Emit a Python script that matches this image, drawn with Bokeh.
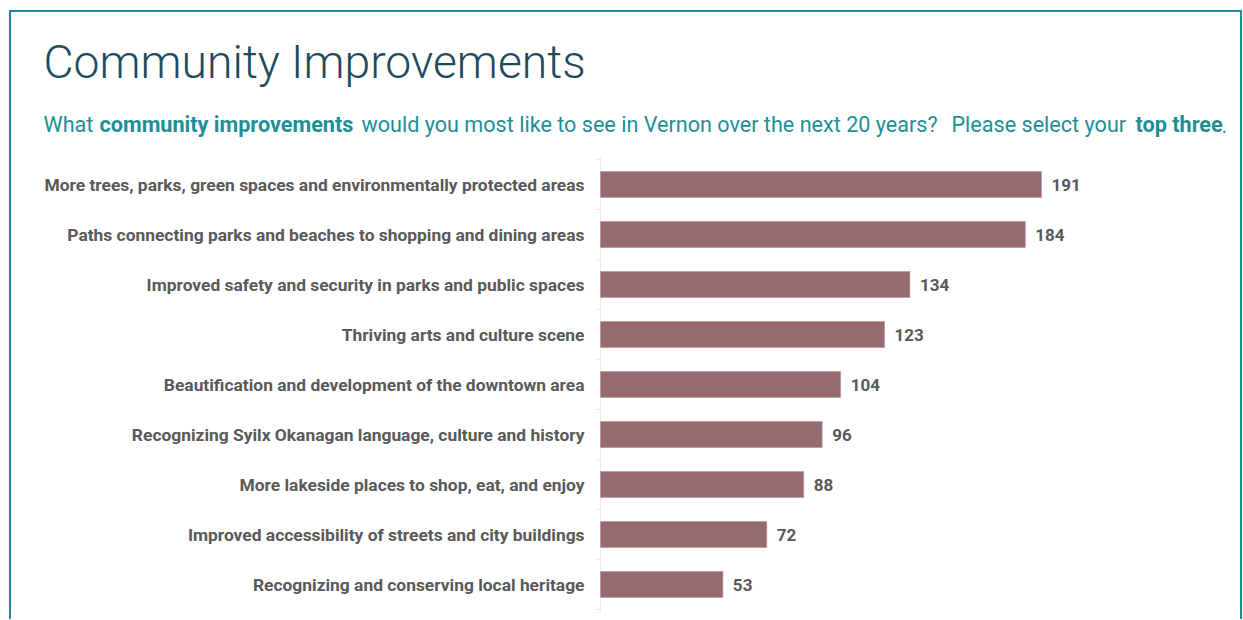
from bokeh.plotting import figure
from bokeh.models import Range1d, ColumnDataSource
from bokeh.core.properties import value
from bokeh.embed import file_html
from bokeh.resources import INLINE

# ---- data ----
categories = [
    "More trees, parks, green spaces and environmentally protected areas",
    "Paths connecting parks and beaches to shopping and dining areas",
    "Improved safety and security in parks and public spaces",
    "Thriving arts and culture scene",
    "Beautification and development of the downtown area",
    "Recognizing Syilx Okanagan language, culture and history",
    "More lakeside places to shop, eat, and enjoy",
    "Improved accessibility of streets and city buildings",
    "Recognizing and conserving local heritage",
]
counts = [191, 184, 134, 123, 104, 96, 88, 72, 53]
value_labels = [str(c) for c in counts]

title_text = "Community Improvements"
subtitle_parts = ["What", "community improvements",
                  "would you most like to see in Vernon over the next 20 years?",
                  "Please select your", "top three", "."]
subtitle_bold = [False, True, False, False, True, False]
subtitle_x = [43, 99, 361, 951, 1135, 1221]  # px where each part starts

# ---- layout ----
W, H = 1242, 619
X0 = 600              # px of value 0
S = (1041 - 600) / 191  # px per unit
Y0 = 184              # px of first category center
BAND = 50             # px per category

def dx(px):
    return (px - X0) / S

def dy(py):
    return (py - Y0) / BAND

p = figure(width=W, height=H, output_backend="svg", toolbar_location=None,
           x_range=Range1d(-X0 / S, (W - X0) / S),
           y_range=Range1d((H - Y0) / BAND, -Y0 / BAND),
           min_border=0, min_border_left=0, min_border_right=0,
           min_border_top=0, min_border_bottom=0)
p.axis.visible = False
p.grid.visible = False
p.outline_line_color = None
p.background_fill_color = "white"
p.border_fill_color = "white"

n = len(categories)
ys = list(range(n))
src = ColumnDataSource(dict(y=ys, v=counts, cat=categories, lab=value_labels))

# faint axis line and ticks
p.segment(x0=0, y0=-0.54, x1=0, y1=n - 0.42, line_color="#ececec", line_width=1)
p.segment(x0=[-5 / S] * (n + 1), y0=[i - 0.5 for i in range(n + 1)],
          x1=[0] * (n + 1), y1=[i - 0.5 for i in range(n + 1)],
          line_color="#ececec", line_width=1)

p.hbar(y="y", left=0, right="v", height=0.52, source=src,
       fill_color="#956b71", line_color="#b89096", line_width=0.6)

p.text(x=0, y="y", text="cat", source=src, x_offset=-16,
       text_align="right", text_baseline="middle",
       text_font=value("Roboto"), text_font_style="bold",
       text_font_size="17.4px", text_color="#595959")
p.text(x="v", y="y", text="lab", source=src, x_offset=10,
       text_align="left", text_baseline="middle",
       text_font=value("Roboto"), text_font_style="bold",
       text_font_size="17px", text_color="#595959")

# title
p.text(x=[dx(43)], y=[dy(61)], text=[title_text],
       text_align="left", text_baseline="middle",
       text_font=value("Roboto Light"), text_font_size="46.3px",
       text_color="#1d4b5e")

# subtitle
for part, bold, xp in zip(subtitle_parts, subtitle_bold, subtitle_x):
    p.text(x=[dx(xp)], y=[dy(124)], text=[part],
           text_align="left", text_baseline="middle",
           text_font=value("Roboto"),
           text_font_style="bold" if bold else "normal",
           text_font_size="21.6px", text_color="#1e8f97")

# border box (left, top, right; open at the bottom)
border_color = "#1a8a9a"
bx0, bx1, by0, by1 = dx(9.5), dx(1240.5), dy(10.5), dy(H + 10)
p.multi_line(xs=[[bx0, bx0, bx1, bx1]], ys=[[by1, by0, by0, by1]],
             line_color=border_color, line_width=2, line_join="miter")

open("out.html", "w").write(file_html(p, INLINE))
